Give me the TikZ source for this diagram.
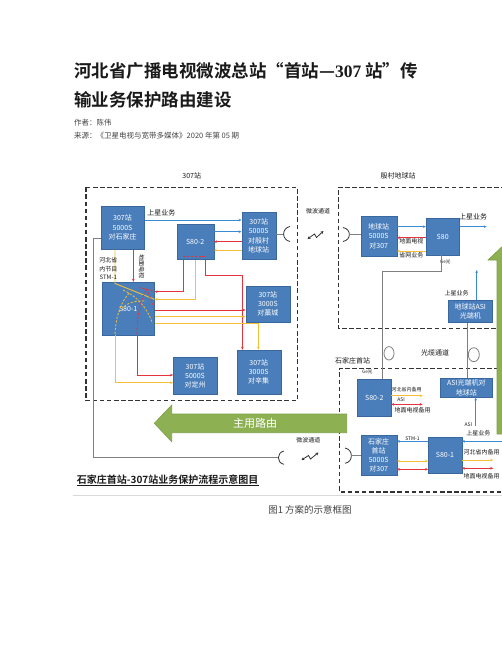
\documentclass[tikz,border=0pt]{standalone}
\usepackage{fontspec}
\setmainfont{Noto Sans CJK SC}[BoldFont={Noto Sans CJK SC Bold}]
\newfontfamily\serifnum{Liberation Serif}
\usetikzlibrary{arrows.meta,positioning}
\definecolor{fg}{HTML}{1A1A1A}
\definecolor{fgsoft}{HTML}{444444}
\definecolor{boxfill}{HTML}{4A7EBB}
\definecolor{boxline}{HTML}{3A679E}
\definecolor{lblue}{HTML}{3B8BD4}
\definecolor{lred}{HTML}{E5333B}
\definecolor{lyellow}{HTML}{F6BF35}
\definecolor{lgrey}{HTML}{7F7F7F}
\definecolor{framec}{HTML}{333333}
\definecolor{route}{HTML}{8DB152}
\definecolor{routeline}{HTML}{7E9F48}
\definecolor{rulec}{HTML}{D9D9D9}

\begin{document}
\begin{tikzpicture}[
  x=1pt, y=-1pt,
  box/.style={draw=boxline, fill=boxfill, text=white, align=center, inner sep=0pt, font=\fontsize{7}{9.2}\selectfont},
  lbl/.style={font=\fontsize{6}{8.5}\selectfont, text=fg, inner sep=0.5pt, align=center},
  biglbl/.style={lbl, font=\fontsize{7}{9}\selectfont},
  tinylbl/.style={lbl, font=\fontsize{4.6}{5.5}\selectfont},
  stnframe/.style={draw=framec, line width=1.2pt, dash pattern=on 4.5pt off 2.6pt},
  blueln/.style={draw=lblue, line width=0.9pt},
  redln/.style={draw=lred, line width=0.9pt},
  yelln/.style={draw=lyellow, line width=0.9pt},
  greyln/.style={draw=lgrey, line width=0.8pt},
  dishln/.style={draw=framec, line width=0.8pt},
  swln/.style={dash pattern=on 2.2pt off 1.6pt, line width=0.8pt},
  arr/.style={-{Stealth[length=3pt,width=2.6pt]}},
  darr/.style={{Stealth[length=3pt,width=2.6pt]}-{Stealth[length=3pt,width=2.6pt]}},
  zap/.style={draw=framec, line width=0.8pt, {Stealth[length=3pt,width=3pt]}-{Stealth[length=3pt,width=3pt]}},
]
\useasboundingbox (0,0) rectangle (502,649);
\clip (0,0) rectangle (502,649);
\fill[white] (0,0) rectangle (502,649);

% article header
\node[anchor=west, inner sep=0pt, text=fg, font=\bfseries\fontsize{17.5}{20}\selectfont] (title1) at (74,70.7)
  {河北省广播电视微波总站“首站—{\serifnum\bfseries 307} 站”传};
\node[anchor=west, inner sep=0pt, text=fg, font=\bfseries\fontsize{17.5}{20}\selectfont] (title2) at (74,100)
  {输业务保护路由建设};
\node[anchor=west, inner sep=0pt, text=fgsoft, font=\fontsize{7.5}{9}\selectfont] (author) at (74,123) {作者：陈伟};
\node[anchor=west, inner sep=0pt, text=fgsoft, font=\fontsize{7.5}{9}\selectfont] (source) at (74,136)
  {来源：《卫星电视与宽带多媒体》2020 年第 05 期};

% station frames
\draw[stnframe] (86,187.3) rectangle (297.3,400.7);
\draw[stnframe] (520,187.3) -- (338.3,187.3) -- (338.3,328.3) -- (520,328.3);
\draw[stnframe] (520,368.3) -- (339.5,368.3) -- (339.5,492) -- (520,492);
\node[biglbl] (t307) at (191.7,175.7) {307站};
\node[biglbl] (tyc) at (398,175.7) {殷村地球站};
\node[biglbl] (tsjz) at (352.7,360.7) {石家庄首站};

% route arrows
\filldraw[fill=route, draw=routeline, line width=0.6pt] (346.7,414) -- (171.7,414) -- (171.7,405) -- (154.3,423.3)
  -- (171.7,441.7) -- (171.7,432.7) -- (346.7,432.7) -- cycle;
\node[text=white, font=\fontsize{11}{12}\selectfont] (mainroute) at (255,423.3) {主用路由};
\filldraw[fill=route, draw=routeline, line width=0.6pt] (497,434) -- (497,260) -- (488,260) -- (506.3,242.6)
  -- (524.6,260) -- (515.6,260) -- (515.6,434) -- cycle;

% 307 station equipment
\node[box, minimum width=43.6, minimum height=43.6] (sjz) at (122.5,227.5) {307站\\5000S\\对石家庄};
\node[box, minimum width=37, minimum height=35] (wS802) at (195.2,241.8) {S80-2};
\node[box, minimum width=34, minimum height=47] (wYc) at (258.7,235.8) {307站\\5000S\\对殷村\\地球站};
\node[box, minimum width=52.3, minimum height=53] (wS801) at (128.2,308.5) {S80-1};
\node[box, minimum width=44.3, minimum height=36.6] (wGc) at (267.9,304) {307站\\3000S\\对藁城};
\node[box, minimum width=43.4, minimum height=36.7] (wDz) at (195,375.7) {307站\\5000S\\对定州};
\node[box, minimum width=44, minimum height=44] (wXj) at (258.7,372) {307站\\3000S\\对辛集};
% Yincun earth station
\node[box, minimum width=36, minimum height=40.7] (yEs) at (378.7,236.3) {地球站\\5000S\\对307};
\node[box, minimum width=33.3, minimum height=36.7] (yS80) at (442.7,236.7) {S80};
\node[box, minimum width=44, minimum height=22.7] (yAsi) at (470.3,311.3) {地球站ASI\\光端机};
% Shijiazhuang head station
\node[box, minimum width=33.3, minimum height=37.7] (sS802) at (374.3,397.8) {S80-2};
\node[box, minimum width=52.7, minimum height=19] (sAsi) at (466.3,387.8) {ASI光端机对\\地球站};
\node[box, minimum width=36, minimum height=39.7] (sSjz) at (378.7,455.2) {石家庄\\首站\\5000S\\对307};
\node[box, minimum width=33.4, minimum height=36.6] (sS801) at (445,455) {S80-1};

% --- 307 station: uplink and return ---
\draw[blueln, arr] (sjz.east |- 0,220) -- node[lbl, above right, pos=0.02, yshift=3pt, font=\fontsize{7}{9}\selectfont]{上星业务} (wYc.west |- 0,220);
\draw[blueln, arr] (wS802.east |- 0,231.7) -- (wYc.west |- 0,231.7);
\draw[redln, arr] (wYc.west |- 0,241.7) -- (wS802.east |- 0,241.7);
\draw[yelln, arr] (wYc.west |- 0,250) -- (wS802.east |- 0,250);
\draw[redln, arr] (sjz.south -| 133.3,0) -- (wS801.north -| 133.3,0);
\node[lbl, rotate=-90] (tvA) at (141.7,266) {地面电视};
\draw[yelln] (sjz.south -| 115,0) -- (115,283.5) -- (wS801.east |- 0,299.3);
\node[lbl, anchor=east] (stmA) at (118,269) {河北省\\内节目\\STM-1};

% --- 307 station: S80-2 / S80-1 fan-out ---
\draw[redln, arr] (wS802.south -| 183.3,0) |- (wS801.east |- 0,291.7);
\draw[yelln, arr] (wS802.south -| 195,0) |- (wS801.east |- 0,299.3);
\draw[redln, arr] (wS802.south -| 205.7,0) |- (242.3,275) -- (wXj.north -| 242.3,0);
\draw[redln, arr] (wS801.east |- 0,310) -- (wGc.west |- 0,310);
\draw[yelln, arr] (wS801.east |- 0,316.7) -- (wGc.west |- 0,316.7);
\draw[yelln, arr] (wS801.east |- 0,323.3) -| (wXj.north -| 258.3,0);
\draw[redln, arr] (wS801.south -| 137.3,0) |- (wDz.west |- 0,375);
\draw[yelln, arr] (wS801.south -| 115,0) |- (wDz.west |- 0,382.7);
% switching inside the S80s
\draw[redln, swln] (183.3,256.5) -- (205.7,256.5);
\draw[yelln, swln] (115,334) .. controls (116,315) and (121,302) .. (130,292);
\draw[yelln, swln] (123,290) .. controls (137,296) and (147,308) .. (152,322);
\draw[yelln, swln] (119,312) .. controls (124,304) and (134,300) .. (146,301);
\draw[redln, swln] (137,334) .. controls (137,316) and (140,300) .. (147,289);
\draw[redln, swln] (139,287.5) -- (154,291);
\draw[redln, swln] (146,289) .. controls (150,296) and (152,302) .. (154,309);

% --- microwave 307 <-> Yincun ---
\coordinate (dishW) at (283.6,234);
\draw[greyln] (wYc.east |- dishW) -- (dishW);
\draw[dishln] (290,226.5) .. controls (281.5,228) and (281.5,240) .. (290,241.5);
\coordinate (dishE) at (349.4,234.5);
\draw[dishln] (343,227.5) .. controls (351.5,229) and (351.5,240) .. (343,241.5);
\draw[greyln] (dishE) -- (yEs.west |- dishE);
\node[lbl] (mwTop) at (318,211.7) {微波通道};
\draw[zap] (307.5,239) -- (314.5,234) -- (316.5,237.5) -- (323.5,231);

% --- Yincun earth station ---
\draw[blueln, arr] (yEs.east |- 0,226.7) -- (yS80.west |- 0,226.7);
\draw[redln, arr] (yS80.west |- 0,237.7) -- node[lbl, below]{地面电视} (yEs.east |- 0,237.7);
\draw[yelln, arr] (yS80.west |- 0,251) -- node[lbl, below]{省网业务} (yEs.east |- 0,251);
\coordinate (upY) at (486.7,226.7);
\draw[blueln, arr] (yS80.east |- upY) -- node[lbl, above, yshift=6pt, font=\fontsize{7}{9}\selectfont]{上星业务} (upY);
\node[tinylbl, anchor=west] (geY) at (439.5,262) {Ge光};
\coordinate (upAsi) at (476.7,270);
\draw[blueln, arr] (yAsi.north -| upAsi) -- (upAsi);
\node[lbl] (upAsiLbl) at (456.7,293.3) {上星业务};

% --- fibre channel ---
\draw[greyln] (yS80.south -| 441,0) |- (382.7,271.7) -- (sS802.north -| 382.7,0);
\draw[greyln] (yAsi.south -| 467.7,0) -- (sAsi.north -| 467.7,0);
\draw[greyln] (389,353.3) ellipse [x radius=5, y radius=6.7];
\draw[greyln] (473.8,354.7) ellipse [x radius=5.5, y radius=7];
\node[biglbl] (fibre) at (435,352.7) {光缆通道};

% --- Shijiazhuang head station ---
\node[tinylbl] (geS) at (367.3,372) {Ge光};
\coordinate (bkY) at (422.7,395.7);
\coordinate (bkR) at (422.7,404.4);
\draw[yelln, arr] (sS802.east |- bkY) -- (bkY);
\draw[redln, darr] (sS802.east |- bkR) -- (bkR);
\node[lbl, font=\fontsize{5}{6}\selectfont] at (406.7,389.3) {河北省内备用};
\node[lbl, font=\fontsize{5}{6}\selectfont] at (401,400.1) {ASI};
\node[lbl] at (412.7,410.7) {地面电视备用};
\coordinate (asiIn) at (475.7,426);
\draw[blueln, arr] (asiIn) -- (sAsi.south -| asiIn);
\node[lbl, font=\fontsize{5}{6}\selectfont] at (468.3,425) {ASI};
\node[lbl] at (478.3,433.3) {上星业务};
\coordinate (upIn) at (503,441.3);
\draw[blueln, arr] (upIn) -- (sS801.east |- upIn);
\draw[blueln, arr] (sS801.west |- 0,441.3) -- node[lbl, above, font=\fontsize{5}{6}\selectfont]{STM-1} (sSjz.east |- 0,441.3);
\draw[yelln, darr] (sS801.west |- 0,461) -- (sSjz.east |- 0,461);
\draw[redln, darr] (sS801.west |- 0,469.3) -- (sSjz.east |- 0,469.3);
\coordinate (outY) at (493.3,460);
\coordinate (outR) at (493.3,468.3);
\draw[yelln, arr] (sS801.east |- outY) -- (outY);
\draw[redln, darr] (sS801.east |- outR) -- (outR);
\node[lbl, anchor=west, font=\fontsize{6}{7}\selectfont] at (463,452.3) {河北省内备用};
\node[lbl, anchor=west, font=\fontsize{6}{7}\selectfont] at (463,476) {地面电视备用};

% --- microwave 307 <-> Shijiazhuang (standby) ---
\coordinate (dishSW) at (278.1,457.7);
\draw[greyln] (sjz.west |- 0,238.3) -| (93.3,457.7) -- (dishSW);
\draw[dishln] (284,451) .. controls (276.5,452.5) and (276.5,463) .. (284,464.3);
\coordinate (dishSE) at (351.4,455.7);
\draw[dishln] (345,448) .. controls (353.5,449.5) and (353.5,462) .. (345,463.3);
\draw[greyln] (dishSE) -- (sSjz.west |- dishSE);
\node[lbl] (mwBot) at (308.3,440.7) {微波通道};
\draw[zap] (301.5,460) -- (308.5,455.5) -- (310.5,459) -- (318.5,452.5);

% diagram title and caption
\node[anchor=west, inner sep=0pt, text=fg, font=\bfseries\fontsize{10}{12}\selectfont] (dtitle) at (76.7,479.5)
  {石家庄首站-307站业务保护流程示意图目};
\draw[fg, line width=0.8pt] ([yshift=-0.5pt]dtitle.south west) -- ([yshift=-0.5pt]dtitle.south east);
\draw[rulec, line width=0.8pt] (73,495.5) -- (502,495.5);
\node[text=fgsoft, font=\fontsize{9.5}{11}\selectfont] (fcap) at (310,510) {图1 方案的示意框图};
\end{tikzpicture}
\end{document}
